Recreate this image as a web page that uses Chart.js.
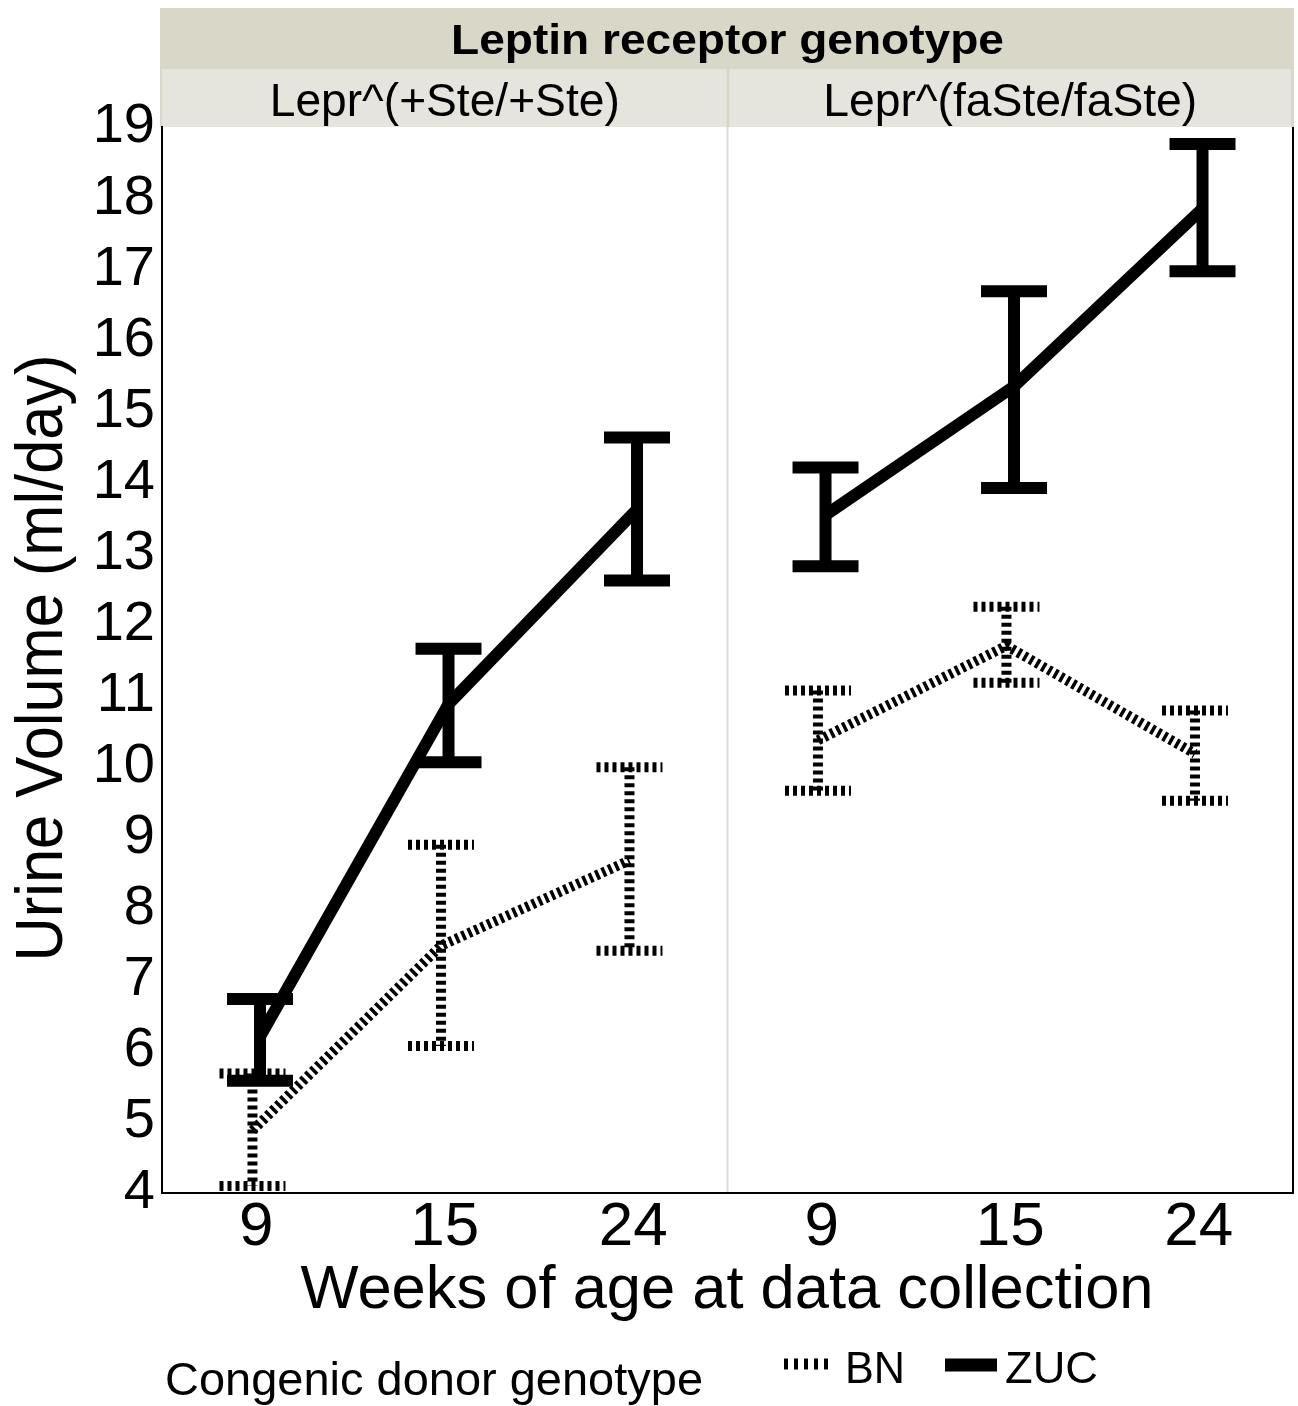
<!DOCTYPE html>
<html>
<head>
<meta charset="utf-8">
<script src="https://cdn.jsdelivr.net/npm/chart.js@4.4.1/dist/chart.umd.min.js"></script>
<style>
  body { margin: 0; background: #fff; }
  canvas { display: block; }
</style>
</head>
<body>
<canvas id="urine" width="1298" height="1406"></canvas>
<script>
// data (ml/day), order: 9, 15, 24 wk for +Ste/+Ste then faSte/faSte
var weeks = ['9', '15', '24'];
var panels = ['Lepr^(+Ste/+Ste)', 'Lepr^(faSte/faSte)'];
var bnMean = [4.88, 7.48, 8.68, 10.37, 11.70, 10.18];
var bnLow = [4.10, 6.07, 7.41, 9.66, 11.18, 9.52];
var bnHigh = [5.68, 8.90, 9.99, 11.07, 12.25, 10.79];
var zucMean = [6.20, 10.88, 13.62, 13.54, 15.35, 17.85];
var zucLow = [5.58, 10.06, 12.62, 12.82, 13.92, 16.97];
var zucHigh = [6.73, 11.66, 14.63, 14.21, 16.69, 18.76];

var NARROW = "'Liberation Sans Narrow', 'Liberation Sans', Arial, sans-serif";
var REG = "'Liberation Sans', Arial, sans-serif";
var dodge = 0.02;
var capHalf = 0.175;

// x position: panel 1 uses 1..3, panel 2 uses 4..6, with a null to break the line
function toPoints(vals, shift) {
    var pts = [];
    vals.forEach(function (v, i) {
        if (i === 3) pts.push({x: 3.5, y: null});
        pts.push({x: i + 1 + shift, y: v});
    });
    return pts;
}

// text squeezed/stretched to a given width
function fitText(ctx, txt, x, y, font, width, align) {
    ctx.save();
    ctx.font = font;
    ctx.fillStyle = '#000';
    ctx.textBaseline = 'alphabetic';
    var w = ctx.measureText(txt).width;
    var sx = width / w;
    ctx.translate(x, y);
    ctx.scale(sx, 1);
    ctx.textAlign = align || 'left';
    ctx.fillText(txt, 0, 0);
    ctx.restore();
}

var errorBars = {
    id: 'errorBars',
    afterDatasetsDraw: function (chart) {
        var ctx = chart.ctx, xs = chart.scales.x, ys = chart.scales.y;
        var sets = [
            {lo: bnLow, hi: bnHigh, shift: -dodge, dash: [4, 4], w: 10},
            {lo: zucLow, hi: zucHigh, shift: dodge, dash: [], w: 12}
        ];
        sets.forEach(function (s) {
            ctx.save();
            ctx.strokeStyle = '#000';
            ctx.lineWidth = s.w;
            ctx.lineCap = 'butt';
            ctx.setLineDash(s.dash);
            s.lo.forEach(function (lo, i) {
                var c = i + 1 + s.shift;
                var x = xs.getPixelForValue(c);
                var yl = ys.getPixelForValue(lo), yh = ys.getPixelForValue(s.hi[i]);
                var xl = xs.getPixelForValue(c - capHalf), xr = xs.getPixelForValue(c + capHalf);
                ctx.beginPath();
                ctx.moveTo(x, yh); ctx.lineTo(x, yl);
                ctx.moveTo(xl, yh); ctx.lineTo(xr, yh);
                ctx.moveTo(xl, yl); ctx.lineTo(xr, yl);
                ctx.stroke();
            });
            ctx.restore();
        });
    }
};

var facets = {
    id: 'facets',
    beforeDraw: function (chart) {
        var ctx = chart.ctx, a = chart.chartArea, xs = chart.scales.x;
        var mid = xs.getPixelForValue(3.5);
        ctx.save();
        // strips
        ctx.fillStyle = '#d9d7c8';
        ctx.fillRect(a.left - 2, 8, a.right - a.left + 3, a.top - 8);
        ctx.fillStyle = '#e6e5dd';
        ctx.fillRect(a.left, 69, mid - 1 - a.left, a.top - 69);
        ctx.fillRect(mid + 2, 69, a.right - 2 - mid - 2, a.top - 69);
        // panel separator
        ctx.strokeStyle = '#dcdcdc';
        ctx.lineWidth = 2;
        ctx.beginPath();
        ctx.moveTo(mid, a.top); ctx.lineTo(mid, a.bottom);
        ctx.stroke();
        ctx.restore();
    },
    afterDraw: function (chart) {
        var ctx = chart.ctx, a = chart.chartArea, xs = chart.scales.x;
        var mid = xs.getPixelForValue(3.5);
        ctx.save();
        // right border
        ctx.strokeStyle = '#000';
        ctx.lineWidth = 2;
        ctx.beginPath();
        ctx.moveTo(a.right, a.top); ctx.lineTo(a.right, a.bottom);
        ctx.stroke();
        ctx.restore();

        fitText(ctx, 'Leptin receptor genotype', (a.left + a.right) / 2, 54, 'bold 42px ' + NARROW, 553, 'center');
        fitText(ctx, panels[0], (a.left + mid) / 2, 116, '46px ' + NARROW, 350, 'center');
        fitText(ctx, panels[1], (mid + a.right) / 2, 116, '46px ' + NARROW, 374, 'center');

        // axis titles
        fitText(ctx, 'Weeks of age at data collection', 727, 1308, '62px ' + NARROW, 853, 'center');
        ctx.save();
        ctx.translate(62, 658);
        ctx.rotate(-Math.PI / 2);
        fitText(ctx, 'Urine Volume (ml/day)', 0, 0, '66px ' + NARROW, 607, 'center');
        ctx.restore();

        // legend
        fitText(ctx, 'Congenic donor genotype', 165, 1395, '47px ' + NARROW, 538, 'left');
        ctx.save();
        ctx.strokeStyle = '#000';
        ctx.lineCap = 'butt';
        ctx.lineWidth = 11;
        ctx.setLineDash([4, 6]);
        ctx.beginPath(); ctx.moveTo(784, 1364); ctx.lineTo(832, 1364); ctx.stroke();
        ctx.setLineDash([]);
        ctx.lineWidth = 13;
        ctx.beginPath(); ctx.moveTo(945, 1365); ctx.lineTo(997, 1365); ctx.stroke();
        ctx.restore();
        fitText(ctx, 'BN', 845, 1383, '44px ' + REG, 60, 'left');
        fitText(ctx, 'ZUC', 1005, 1383, '44px ' + REG, 93, 'left');
    }
};

var ctx = document.getElementById('urine').getContext('2d');

var urineChart = new Chart(ctx, {
    type: 'line',
    data: {
        datasets: [
            {
                label: 'BN',
                data: toPoints(bnMean, -dodge),
                borderColor: '#000',
                borderWidth: 10,
                borderDash: [3.5, 3.5],
                borderCapStyle: 'butt',
                pointRadius: 0,
                tension: 0,
                spanGaps: false
            },
            {
                label: 'ZUC',
                data: toPoints(zucMean, dodge),
                borderColor: '#000',
                borderWidth: 12,
                borderCapStyle: 'butt',
                pointRadius: 0,
                tension: 0,
                spanGaps: false
            }
        ]
    },
    options: {
        responsive: false,
        animation: false,
        layout: {padding: {top: 127, right: 5, left: 0, bottom: 0}},
        plugins: {legend: {display: false}, tooltip: {enabled: false}},
        scales: {
            x: {
                type: 'linear',
                min: 0.5,
                max: 6.5,
                afterBuildTicks: function (scale) {
                    scale.ticks = [1, 2, 3, 4, 5, 6].map(function (v) { return {value: v}; });
                },
                afterFit: function (scale) { scale.height = 213; },
                grid: {display: false, drawTicks: false},
                border: {display: true, color: '#000', width: 2},
                ticks: {
                    autoSkip: false,
                    maxRotation: 0,
                    padding: -2,
                    color: '#000',
                    font: {family: NARROW, size: 62},
                    callback: function (v) { return weeks[(v - 1) % 3]; }
                }
            },
            y: {
                min: 4,
                max: 19,
                afterFit: function (scale) { scale.width = 162; },
                grid: {display: false, drawTicks: false},
                border: {display: true, color: '#000', width: 2},
                ticks: {
                    stepSize: 1,
                    padding: 7,
                    color: '#000',
                    font: {family: REG, size: 56}
                }
            }
        }
    },
    plugins: [facets, errorBars]
});
</script>
</body>
</html>
